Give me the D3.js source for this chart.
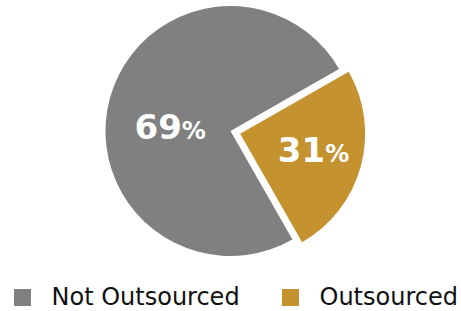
<!DOCTYPE html>
<html>
<head>
<meta charset="utf-8">
<script src="https://cdn.jsdelivr.net/npm/d3@7/dist/d3.min.js"></script>
<style>
  body { margin: 0; background: #fff; }
</style>
</head>
<body>
<div id="chart"></div>
<script>
// data
const categories = ['Not Outsourced', 'Outsourced'];
const shares = [75, 25];          // slice sizes as they are drawn
const shareLabels = ['69', '31']; // printed percentages
const sliceColors = ['#808080', '#C4922F'];

const width = 461;
const height = 311;
const cx = 230.5;
const cy = 131;
const radius = 125;
const explode = [0, 10];
const labelNudge = [[12, 16], [1, -3.5]];

const data = categories.map((c, i) => ({ name: c, value: shares[i], label: shareLabels[i] }));

const color = d3.scaleOrdinal().domain(categories).range(sliceColors);

const svg = d3.select('#chart')
  .append('svg')
    .attr('width', width)
    .attr('height', height);

const g = svg.append('g')
  .attr('transform', 'translate(' + cx + ',' + cy + ')');

const pie = d3.pie()
  .sort(null)
  .value(d => d.value)
  .startAngle(150.3 * Math.PI / 180)
  .endAngle(150.3 * Math.PI / 180 + 2 * Math.PI);

const arc = d3.arc().innerRadius(0).outerRadius(radius);
const labelArc = d3.arc().innerRadius(radius * 0.6).outerRadius(radius * 0.6);

const slices = pie(data);

function offset(d, i) {
  const a = (d.startAngle + d.endAngle) / 2;
  return [Math.sin(a) * explode[i], -Math.cos(a) * explode[i]];
}

g.selectAll('path.slice')
  .data(slices)
  .enter()
  .append('path')
    .attr('class', 'slice')
    .attr('d', arc)
    .attr('fill', d => color(d.data.name))
    .attr('transform', (d, i) => 'translate(' + offset(d, i) + ')');

const labels = g.selectAll('text.pct')
  .data(slices)
  .enter()
  .append('text')
    .attr('class', 'pct')
    .attr('text-anchor', 'middle')
    .attr('fill', '#fff')
    .style('font-family', '"DejaVu Sans", Verdana, sans-serif')
    .style('font-weight', 'bold')
    .attr('x', (d, i) => labelArc.centroid(d)[0] + offset(d, i)[0] + labelNudge[i][0])
    .attr('y', (d, i) => labelArc.centroid(d)[1] + offset(d, i)[1] + labelNudge[i][1] + 11.7);

labels.append('tspan')
  .style('font-size', '34px')
  .text(d => d.data.label);
labels.append('tspan')
  .style('font-size', '24px')
  .text('%');

// legend
const legendX = [14, 282];
const legend = svg.selectAll('g.legend')
  .data(categories)
  .enter()
  .append('g')
    .attr('class', 'legend')
    .attr('transform', (d, i) => 'translate(' + legendX[i] + ',289)');

legend.append('rect')
  .attr('width', 17)
  .attr('height', 17)
  .attr('fill', d => color(d));

legend.append('text')
  .attr('x', 37.5)
  .attr('y', 16)
  .attr('fill', '#111')
  .style('font-family', '"DejaVu Sans", Verdana, sans-serif')
  .style('font-size', '24px')
  .text(d => d);
</script>
</body>
</html>
